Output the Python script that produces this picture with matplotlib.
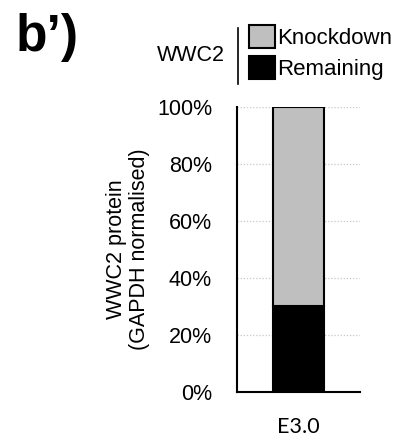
import matplotlib
matplotlib.use("Agg")
import matplotlib.pyplot as plt
from matplotlib.lines import Line2D
from matplotlib.ticker import FuncFormatter

# Data
categories = ["E3.0"]
remaining = [30]
knockdown = [70]
series_labels = ["Knockdown", "Remaining"]
yticks = [0, 20, 40, 60, 80, 100]

plt.rcParams["font.family"] = ["Liberation Sans", "DejaVu Sans"]

fig = plt.figure(figsize=(3.98, 4.45), dpi=100)
ax = fig.add_axes([0.5955, 0.1191, 0.309, 0.6405])

x = list(range(len(categories)))
b_rem = ax.bar(x, remaining, width=0.41, color="black", edgecolor="black",
               linewidth=1.5, zorder=3, label=series_labels[1])
b_kd = ax.bar(x, knockdown, bottom=remaining, width=0.41, color="#BFBFBF",
              edgecolor="black", linewidth=1.5, zorder=3, label=series_labels[0])

ax.set_xlim(-0.5, 0.5)
ax.set_ylim(0, 100)
ax.set_yticks(yticks)
ax.yaxis.set_major_formatter(FuncFormatter(lambda v, p: f"{v:.0f}%"))
ax.set_xticks(x)
ax.set_xticklabels(categories, family="Lato", fontsize=15.5)
ax.tick_params(axis="y", length=0, pad=18, labelsize=15.5)
ax.tick_params(axis="x", length=0, pad=18)

for s in ["top", "right"]:
    ax.spines[s].set_visible(False)
for s in ["left", "bottom"]:
    ax.spines[s].set_linewidth(1.5)
    ax.spines[s].set_zorder(4)

ax.yaxis.grid(True, linestyle=(0, (1, 1.5)), color="#C8C8C8", linewidth=0.9, zorder=0)
ax.set_axisbelow(True)

ax.set_ylabel("WWC2 protein\n(GAPDH normalised)", fontsize=15.5, labelpad=5,
              linespacing=1.15)

# Panel tag
fig.text(0.04, 0.915, "b’)", fontsize=37, fontweight="bold", va="center", ha="left")

# Legend block
fig.text(0.48, 0.875, "WWC2", fontsize=15.5, va="center", ha="center")
fig.add_artist(Line2D([0.598, 0.598], [1 - 28 / 445, 1 - 84 / 445],
                      transform=fig.transFigure, color="black", linewidth=1.2))
fig.legend(handles=[b_kd, b_rem], labels=series_labels, loc="upper left",
           bbox_to_anchor=(0.626, 0.9440), frameon=False, fontsize=16,
           handlelength=1.15, handleheight=1.25, handletextpad=0.12,
           labelspacing=0.3, borderpad=0, borderaxespad=0)

fig.savefig("out.png", dpi=100)
